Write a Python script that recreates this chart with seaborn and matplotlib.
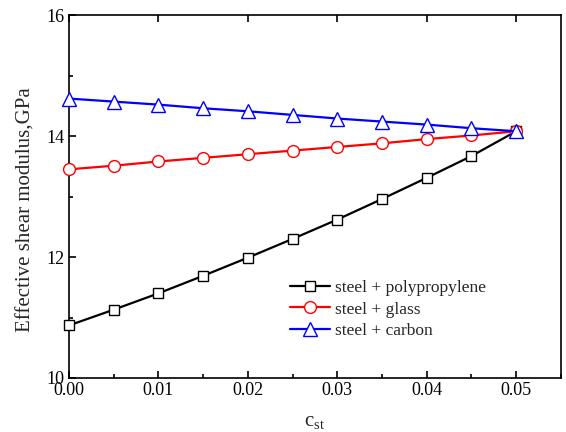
import matplotlib
matplotlib.use("Agg")
import matplotlib.pyplot as plt
import numpy as np
import pandas as pd
import seaborn as sns
from matplotlib.ticker import MultipleLocator

c_st = [0.0, 0.005, 0.01, 0.015, 0.02, 0.025, 0.03, 0.035, 0.04, 0.045, 0.05]
polypropylene = [10.87, 11.13, 11.40, 11.69, 11.99, 12.30, 12.62, 12.96, 13.31, 13.67, 14.08]
glass = [13.45, 13.51, 13.58, 13.64, 13.70, 13.76, 13.82, 13.88, 13.95, 14.01, 14.08]
carbon = [14.62, 14.57, 14.52, 14.46, 14.41, 14.35, 14.29, 14.24, 14.19, 14.13, 14.08]
labels = ["steel + polypropylene", "steel + glass", "steel + carbon"]

sns.set_style("ticks")
plt.rcParams["font.family"] = ["Liberation Serif", "DejaVu Serif"]
plt.rcParams["mathtext.fontset"] = "custom"
plt.rcParams["mathtext.rm"] = "Liberation Serif"
plt.rcParams["mathtext.it"] = "Liberation Serif"

df = pd.DataFrame({"c_st": c_st, labels[0]: polypropylene,
                   labels[1]: glass, labels[2]: carbon})

fig = plt.figure(figsize=(5.66, 4.32), dpi=100)
ax = fig.add_axes([0.122, 0.125, 0.869, 0.840])

styles = [("black", "s", 7.5), ("red", "o", 8.5), ("blue", "^", 9.5)]
for name, (col, mk, ms) in zip(labels, styles):
    sns.lineplot(data=df, x="c_st", y=name, ax=ax, color=col, lw=1.6,
                 marker=mk, markersize=ms, markerfacecolor="white",
                 markeredgecolor=col, markeredgewidth=1.0, label=name,
                 clip_on=False, zorder=3)

ax.set_xlim(0, 0.055)
ax.set_ylim(10, 16)
ax.xaxis.set_major_locator(MultipleLocator(0.01))
ax.xaxis.set_minor_locator(MultipleLocator(0.005))
ax.yaxis.set_major_locator(MultipleLocator(2))
ax.yaxis.set_minor_locator(MultipleLocator(1))
ax.xaxis.set_major_formatter(matplotlib.ticker.FormatStrFormatter("%.2f"))
ax.tick_params(which="both", direction="in", top=True, right=False,
               labelsize=13, width=1.2, colors="black")
ax.tick_params(which="major", length=5, pad=3)
ax.tick_params(which="minor", length=3, top=False)
for sp in ax.spines.values():
    sp.set_linewidth(1.2)
    sp.set_color("black")

ax.set_xlabel(r"c$_{\rm st}$", fontsize=15, labelpad=9)
ax.set_ylabel("Effective shear modulus,GPa", fontsize=15)
ax.yaxis.set_label_coords(-0.068, 0.465)

ax.legend(loc="upper left", bbox_to_anchor=(0.435, 0.29), frameon=False,
          fontsize=12.5, handlelength=2.3, handletextpad=0.3,
          labelspacing=0.32, borderaxespad=0)

fig.savefig("out.png", dpi=100)
